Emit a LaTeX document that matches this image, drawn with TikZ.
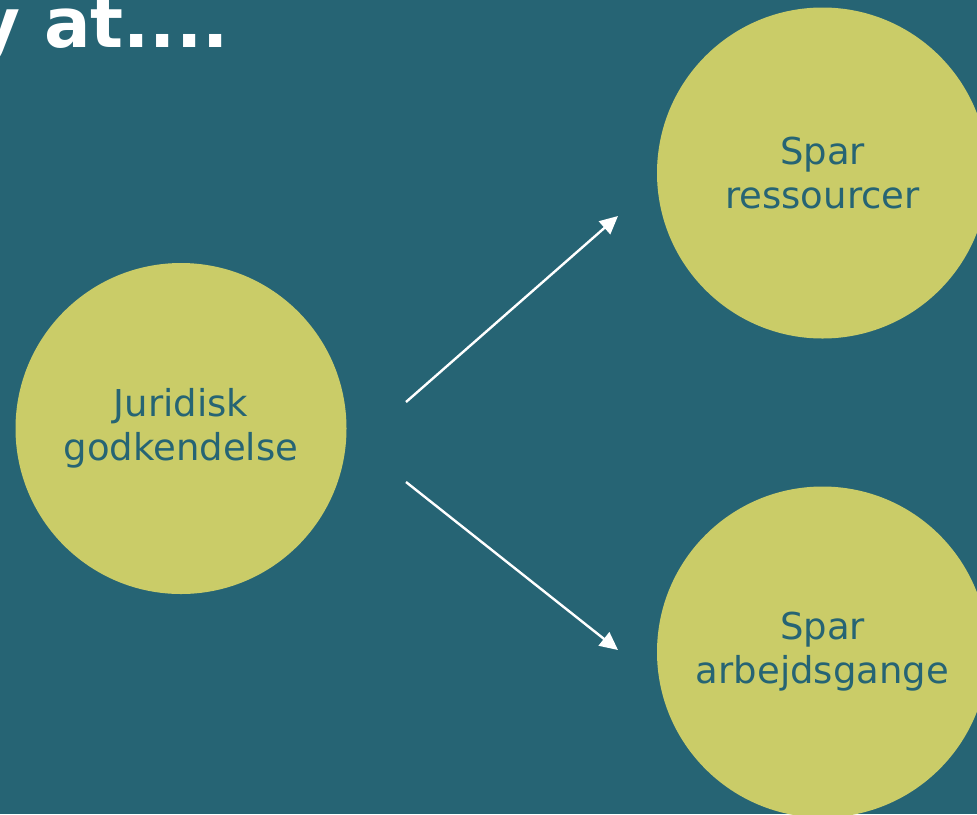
\documentclass[tikz,border=0pt]{standalone}
\usepackage{fontspec}
\setmainfont{DejaVu Sans}
\usepackage{tikz}
\usetikzlibrary{arrows.meta}

\definecolor{slidebg}{RGB}{38,100,116}
\definecolor{bubble}{RGB}{202,204,104}

\tikzset{
	bubble/.style={circle,fill=bubble,inner sep=0pt,minimum size=165.5pt,align=center,text=slidebg,font=\fontsize{18.5pt}{22pt}\selectfont},
	pil/.style={draw=white,line width=1.2pt,-{Triangle[length=9pt,width=8.5pt]}}
}

\begin{document}
\begin{tikzpicture}[x=0.5pt,y=-0.5pt]
	%BACKGROUND
	\fill[slidebg] (0,0) rectangle (977,814);
	\useasboundingbox (0,0) rectangle (977,814);
	\clip (0,0) rectangle (977,814);
	
	%TITLE
	\node[anchor=base east,text=white,inner sep=0pt,font=\fontsize{34.5pt}{40pt}\selectfont\bfseries] (titel) at (229,47) {y at....};
	
	%CIRCLES
	\node[bubble] (juridisk) at (181,428.5) {Juridisk\\godkendelse};
	\node[bubble] (ressourcer) at (822.5,173) {Spar\\ressourcer};
	\node[bubble] (arbejdsgange) at (822.5,652) {Spar\\arbejdsgange};
	
	%ARROWS
	\coordinate (startOp) at (406,402);
	\coordinate (slutOp) at (618,216);
	\coordinate (startNed) at (406,482);
	\coordinate (slutNed) at (618,650);
	\foreach \a/\b in {startOp/slutOp,startNed/slutNed} \draw[pil] (\a)--(\b);
\end{tikzpicture}
\end{document}
